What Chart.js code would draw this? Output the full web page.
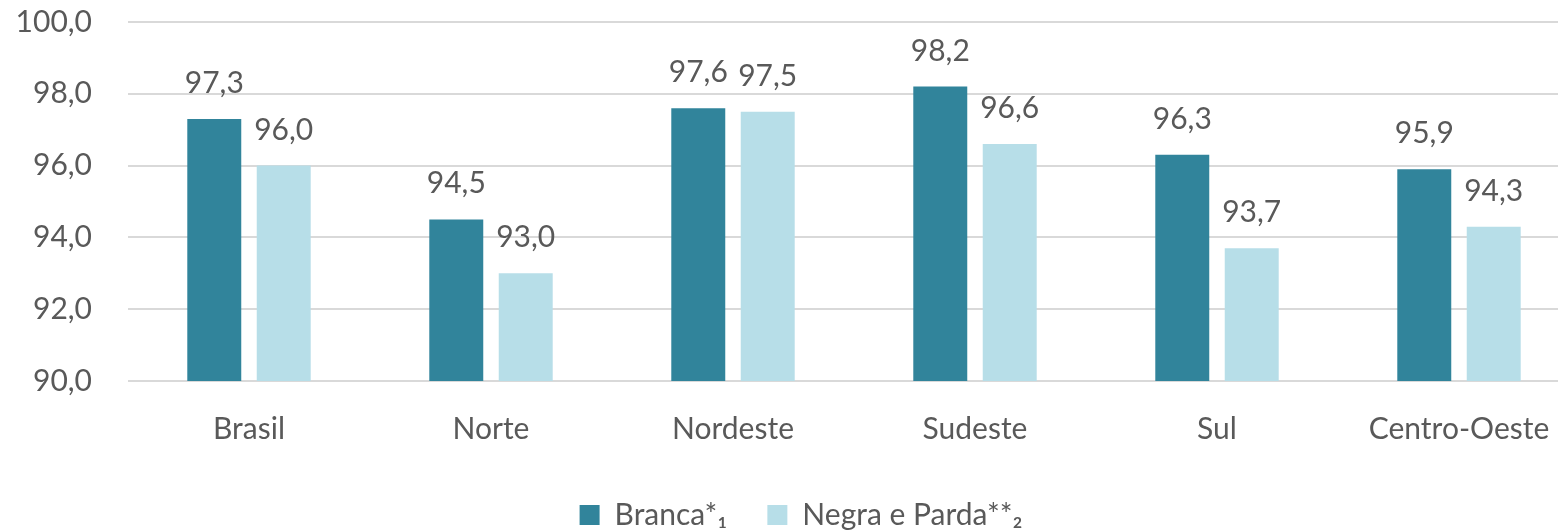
<!DOCTYPE html>
<html>
<head>
<meta charset="utf-8">
<script src="https://cdn.jsdelivr.net/npm/chart.js@4/dist/chart.umd.min.js"></script>
<style>
html,body{margin:0;padding:0;background:#fff;overflow:hidden;}
#wrap{position:relative;width:1580px;height:530px;}
</style>
</head>
<body>
<div id="wrap"><canvas id="c"></canvas></div>
<script>
const categories = ["Brasil","Norte","Nordeste","Sudeste","Sul","Centro-Oeste"];
const branca = [97.3, 94.5, 97.6, 98.2, 96.3, 95.9];
const negraParda = [96.0, 93.0, 97.5, 96.6, 93.7, 94.3];
const seriesNames = ["Branca*\u2081", "Negra e Parda**\u2082"];
const yMin = 90, yMax = 100, yStep = 2;

const fmt = v => v.toFixed(1).replace('.', ',');
const FONT = "Lato, 'Open Sans', sans-serif";
const FS = 30;
const TXT = '#595959';

const labelPlugin = {
  id: 'barLabels',
  afterDatasetsDraw(chart) {
    const ctx = chart.ctx;
    ctx.save();
    ctx.font = FS + "px " + FONT;
    ctx.fillStyle = TXT;
    ctx.textAlign = 'center';
    ctx.textBaseline = 'alphabetic';
    chart.data.datasets.forEach((ds, i) => {
      const meta = chart.getDatasetMeta(i);
      meta.data.forEach((bar, j) => {
        ctx.fillText(fmt(ds.data[j]), bar.x, bar.y - 26);
      });
    });
    ctx.restore();
  }
};

const legendShift = {
  id: 'legendShift',
  afterLayout(chart) {
    const l = chart.legend;
    if (l) { l.left += 11; l.right += 11; l.top -= 17; l.bottom = chart.height; l.height = l.bottom - l.top; }
  }
};

new Chart(document.getElementById('c'), {
  type: 'bar',
  data: {
    labels: categories,
    datasets: [
      { label: seriesNames[0], data: branca, backgroundColor: '#31849B' },
      { label: seriesNames[1], data: negraParda, backgroundColor: '#B7DEE8' }
    ]
  },
  options: {
    responsive: true,
    maintainAspectRatio: false,
    animation: false,
    layout: { padding: 0 },
    datasets: { bar: { categoryPercentage: 0.574, barPercentage: 0.777 } },
    plugins: {
      tooltip: { enabled: false },
      legend: {
        position: 'bottom',
        maxHeight: 53,
        labels: {
          boxWidth: 20, boxHeight: 20, padding: 40,
          color: TXT, font: { family: FONT, size: FS }
        }
      }
    },
    scales: {
      x: {
        grid: { display: false, drawTicks: false },
        border: { display: false },
        ticks: { color: TXT, font: { family: FONT, size: FS }, padding: 30, maxRotation: 0 }
      },
      y: {
        min: yMin, max: yMax,
        grid: { color: '#D9D9D9', lineWidth: 2, drawTicks: false },
        border: { display: false },
        afterFit(s) { s.width = 128; s.paddingTop = 22; s.paddingBottom = 18; },
        ticks: { stepSize: yStep, color: TXT, font: { family: FONT, size: FS }, padding: 36,
          callback: v => fmt(v) }
      }
    }
  },
  plugins: [labelPlugin, legendShift]
});
</script>
</body>
</html>
